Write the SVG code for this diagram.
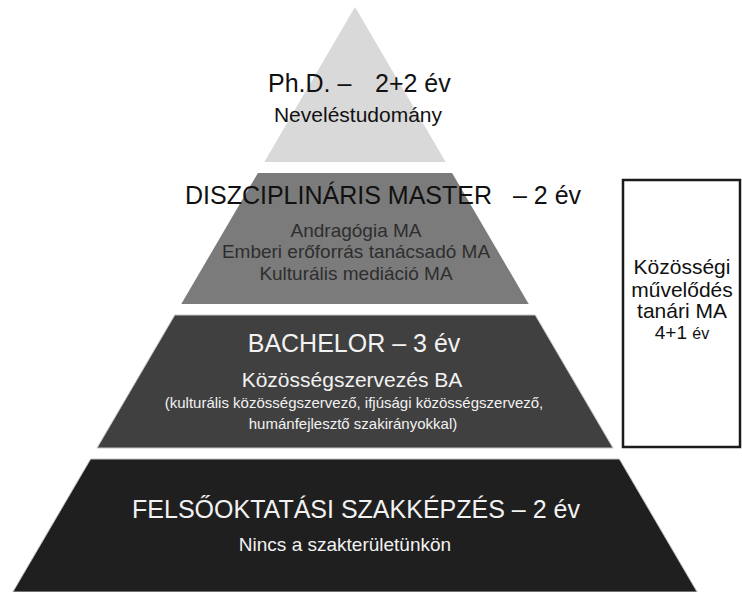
<svg xmlns="http://www.w3.org/2000/svg" width="742" height="592" viewBox="0 0 742 592">
  <style>
    text { font-family: "Liberation Sans", Arial, sans-serif; }
    .dark { fill: #111111; }
    .mid { fill: #2e2e2e; }
    .light { fill: #f2f2f2; }
    .title { font-size: 25px; }
    .c { text-anchor: middle; }
    .tier { stroke: #c4c4c4; stroke-width: 1; }
    .box { fill: #ffffff; stroke: #1a1a1a; stroke-width: 2.5; }
    .boxtxt { font-size: 21px; }
  </style>
  <rect x="0" y="0" width="742" height="592" fill="#ffffff"/>

  <g id="phd">
    <polygon points="355,7 264.3,162 445.7,162" fill="#d9d9d9"/>
    <text class="dark title" x="268" y="92">Ph.D. –</text>
    <text class="dark title" x="375" y="92">2+2 év</text>
    <text class="dark c" x="358" y="122" font-size="21">Neveléstudomány</text>
  </g>

  <g id="master">
    <polygon points="257.9,173 452.1,173 528.7,304 181.3,304" fill="#7b7b7b"/>
    <text class="dark title" x="185" y="204">DISZCIPLINÁRIS MASTER</text>
    <text class="dark title" x="513" y="204">– 2 év</text>
    <text class="mid c" x="356" y="237" font-size="19">Andragógia MA</text>
    <text class="mid c" x="356" y="258" font-size="19">Emberi erőforrás tanácsadó MA</text>
    <text class="mid c" x="356" y="280" font-size="19">Kulturális mediáció MA</text>
  </g>

  <g id="bachelor">
    <polygon class="tier" points="174.8,315 535.2,315 613,448 97,448" fill="#404040"/>
    <text class="light title c" x="354" y="352">BACHELOR – 3 év</text>
    <text class="light c" x="352" y="387" font-size="21">Közösségszervezés BA</text>
    <text class="light c" x="354" y="408" font-size="15">(kulturális közösségszervező, ifjúsági közösségszervező,</text>
    <text class="light c" x="353" y="429" font-size="15">humánfejlesztő szakirányokkal)</text>
  </g>

  <g id="felsooktatasi">
    <polygon class="tier" points="90.6,459 619.4,459 697.2,592 12.8,592" fill="#1f1f1f"/>
    <text class="light title c" x="356" y="518">FELSŐOKTATÁSI SZAKKÉPZÉS – 2 év</text>
    <text class="light c" x="345" y="551" font-size="19">Nincs a szakterületünkön</text>
  </g>

  <g id="tanari-ma">
    <rect class="box" x="623" y="180" width="117" height="267"/>
    <text class="dark c boxtxt" x="682" y="274">Közösségi</text>
    <text class="dark c boxtxt" x="682" y="296.5">művelődés</text>
    <text class="dark c boxtxt" x="682" y="318">tanári MA</text>
    <text class="dark c" x="682" y="339" font-size="19">4+1 <tspan font-size="16">év</tspan></text>
  </g>

  <g id="connectors"/>
</svg>
